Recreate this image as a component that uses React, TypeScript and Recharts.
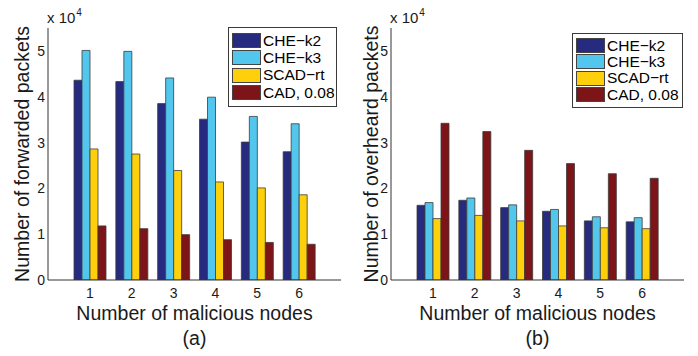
import React from "react";
import { BarChart, Bar, XAxis, YAxis, Legend, Label } from "recharts";

// number of malicious nodes on the x axis
const nodes = [1, 2, 3, 4, 5, 6];

// (a) forwarded packets, in units of 10^4
const fwdCheK2 = [4.36, 4.33, 3.85, 3.51, 3.01, 2.8];
const fwdCheK3 = [5.01, 4.99, 4.41, 3.99, 3.57, 3.41];
const fwdScadRt = [2.86, 2.75, 2.39, 2.14, 2.01, 1.86];
const fwdCad008 = [1.18, 1.12, 0.99, 0.88, 0.82, 0.78];

// (b) overheard packets, in units of 10^4
const ovhCheK2 = [1.63, 1.74, 1.58, 1.5, 1.29, 1.27];
const ovhCheK3 = [1.69, 1.79, 1.64, 1.54, 1.38, 1.36];
const ovhScadRt = [1.34, 1.41, 1.29, 1.18, 1.14, 1.12];
const ovhCad008 = [3.42, 3.24, 2.83, 2.54, 2.32, 2.22];

const yTicks = [0, 1, 2, 3, 4, 5];
const seriesNames = ["CHE\u2212k2", "CHE\u2212k3", "SCAD\u2212rt", "CAD, 0.08"];
const seriesColors = ["#262b80", "#52c6ec", "#fdd00b", "#7d1418"];

const FONT = "'Liberation Sans', Arial, Helvetica, sans-serif";
const INK = "#1a1a1a";
const AXIS = "#333";

function makeRows(a: number[], b: number[], c: number[], d: number[]) {
  return nodes.map((n, i) => ({ node: n, s0: a[i], s1: b[i], s2: c[i], s3: d[i] }));
}

const fwdRows = makeRows(fwdCheK2, fwdCheK3, fwdScadRt, fwdCad008);
const ovhRows = makeRows(ovhCheK2, ovhCheK3, ovhScadRt, ovhCad008);

function LegendBox({ payload, width, rowH, padTop, padBottom }: any) {
  return (
    <div
      style={{
        width,
        boxSizing: "border-box",
        border: "1px solid #3a3a3a",
        background: "#fff",
        padding: `${padTop}px 3px ${padBottom}px 3px`,
        fontFamily: FONT,
        fontSize: 15.5,
        color: "#000",
      }}
    >
      {(payload || []).map((p: any, i: number) => (
        <div key={i} style={{ display: "flex", alignItems: "center", height: rowH }}>
          <div
            style={{
              width: 29,
              height: 15,
              boxSizing: "border-box",
              border: "1px solid #444",
              background: p.color,
              flex: "none",
            }}
          />
          <span style={{ marginLeft: 2, lineHeight: 1, whiteSpace: "nowrap" }}>{p.value}</span>
        </div>
      ))}
    </div>
  );
}

interface PanelProps {
  rows: any[];
  yLabel: string;
  tag: string;
  plotLeft: number;
  rightMargin: number;
  yLabelX: number;
  legend: { left: number; top: number; width: number; rowH: number; padTop: number; padBottom: number };
}

function Panel({ rows, yLabel, tag, plotLeft, rightMargin, yLabelX, legend }: PanelProps) {
  const pad = { left: 21, right: 21 };
  return (
    <div style={{ position: "relative", width: 349, height: 356 }}>
      <BarChart
        width={349}
        height={356}
        data={rows}
        margin={{ top: 28, right: rightMargin, bottom: 56, left: 0 }}
        barGap={0}
      >
        {/* inward MATLAB-style ticks on the box, drawn by mirrored axes */}
        <XAxis
          xAxisId="top"
          orientation="top"
          mirror
          height={0}
          dataKey="node"
          padding={pad}
          interval={0}
          tick={false}
          tickSize={3}
          stroke={AXIS}
        />
        <YAxis
          yAxisId="lin"
          mirror
          width={0}
          domain={[0, 5.5]}
          ticks={yTicks}
          allowDataOverflow
          tick={false}
          tickSize={3}
          axisLine={false}
          stroke={AXIS}
        />
        <YAxis
          yAxisId="rin"
          orientation="right"
          mirror
          width={0}
          domain={[0, 5.5]}
          ticks={yTicks}
          allowDataOverflow
          tick={false}
          tickSize={3}
          stroke={AXIS}
        />
        <XAxis
          dataKey="node"
          height={20}
          padding={pad}
          interval={0}
          tickLine={false}
          stroke={AXIS}
          tick={{ fill: INK, fontSize: 14, fontFamily: FONT }}
        >
          <Label
            value="Number of malicious nodes"
            position="bottom"
            offset={6}
            style={{ fill: INK, fontSize: 19.5, fontFamily: FONT }}
          />
          <Label value={tag} position="bottom" offset={31} style={{ fill: INK, fontSize: 19.5, fontFamily: FONT }} />
        </XAxis>
        <YAxis
          width={plotLeft}
          domain={[0, 5.5]}
          ticks={yTicks}
          allowDataOverflow
          tickLine={false}
          tickSize={1}
          tickMargin={2}
          stroke={AXIS}
          tick={{ fill: INK, fontSize: 14, fontFamily: FONT }}
        >
          <Label
            value={yLabel}
            angle={-90}
            position="insideLeft"
            offset={yLabelX}
            style={{ textAnchor: "middle", fill: INK, fontSize: 19.5, fontFamily: FONT }}
          />
        </YAxis>
        <Legend
          layout="vertical"
          align="center"
          verticalAlign="middle"
          itemSorter="dataKey"
          wrapperStyle={{ left: legend.left, top: legend.top, width: legend.width, height: "auto" }}
          content={(props: any) => (
            <LegendBox
              payload={props.payload}
              width={legend.width}
              rowH={legend.rowH}
              padTop={legend.padTop}
              padBottom={legend.padBottom}
            />
          )}
        />
        {seriesNames.map((name, i) => (
          <Bar
            key={name}
            dataKey={`s${i}`}
            name={name}
            fill={seriesColors[i]}
            stroke="#3c3c3c"
            strokeWidth={0.8}
            barSize={8}
            legendType="rect"
            isAnimationActive={false}
          />
        ))}
      </BarChart>
      <div
        style={{
          position: "absolute",
          left: plotLeft - 1,
          top: 9,
          fontFamily: FONT,
          fontSize: 15,
          lineHeight: "17px",
          color: INK,
          whiteSpace: "nowrap",
        }}
      >
        x 10
        <span style={{ fontSize: 10, position: "relative", top: -7, marginLeft: 1 }}>4</span>
      </div>
    </div>
  );
}

export default function App() {
  return (
    <div
      style={{
        position: "absolute",
        left: 0,
        top: 0,
        width: 698,
        height: 356,
        background: "#fff",
        display: "flex",
      }}
    >
      <Panel
        rows={fwdRows}
        yLabel="Number of forwarded packets"
        tag="(a)"
        plotLeft={48}
        rightMargin={8}
        yLabelX={22}
        legend={{ left: 228, top: 27, width: 109, rowH: 17.3, padTop: 3.8, padBottom: 5 }}
      />
      <Panel
        rows={ovhRows}
        yLabel="Number of overheard packets"
        tag="(b)"
        plotLeft={42}
        rightMargin={14}
        yLabelX={22}
        legend={{ left: 223, top: 33, width: 111, rowH: 16.3, padTop: 3.3, padBottom: 4.5 }}
      />
    </div>
  );
}
